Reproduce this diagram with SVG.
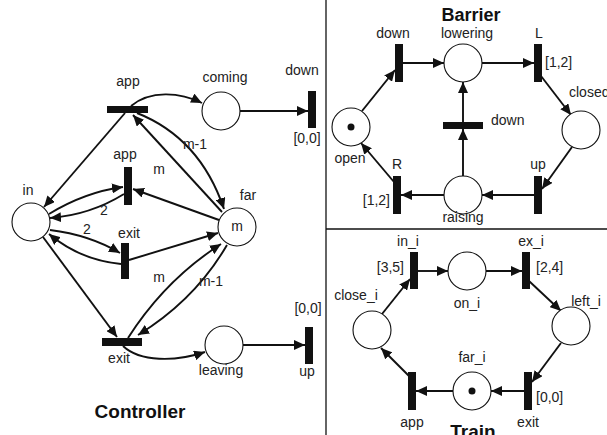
<svg xmlns="http://www.w3.org/2000/svg" width="607" height="435" viewBox="0 0 607 435">
<defs>
<marker id="ah" markerUnits="userSpaceOnUse" markerWidth="12" markerHeight="10" refX="11" refY="5" orient="auto">
<path d="M0,0 L11,5 L0,10 Z" fill="#111"/>
</marker>
<style>
.p{fill:#fff;stroke:#111;stroke-width:1.1}
.t{fill:#111}
.e{fill:none;stroke:#111;stroke-width:1.9;marker-end:url(#ah)}
.l{font-family:"Liberation Sans",Arial,sans-serif;font-size:14px;fill:#222}
.c{text-anchor:middle}
.h{font-family:"Liberation Sans",Arial,sans-serif;font-size:19px;font-weight:bold;fill:#111;text-anchor:middle}
.d{stroke:#111;stroke-width:1.3}
</style>
</defs>
<rect width="607" height="435" fill="#fff"/>
<g id="dividers">
<line class="d" x1="326" y1="0" x2="326" y2="435"/>
<line class="d" x1="326" y1="229" x2="607" y2="229"/>
</g>
<g id="connectors">
<path class="e" d="M131,106 C150,90 180,92 202,103"/>
<path class="e" d="M240,111 L308,111"/>
<path class="e" d="M125,113 L44,207"/>
<path class="e" d="M222,212 L133,115"/>
<path class="e" d="M137,113 Q200,138 224,209"/>
<path class="e" d="M49,214 Q85,192 123,187"/>
<path class="e" d="M124,194 Q90,215 50,218"/>
<path class="e" d="M219,220 L133,189"/>
<path class="e" d="M50,230 Q90,235 120,253"/>
<path class="e" d="M121,264 Q80,260 49,234"/>
<path class="e" d="M129,260 L218,233"/>
<path class="e" d="M43,237 L117,337"/>
<path class="e" d="M128,338 Q165,280 221,244"/>
<path class="e" d="M227,245 Q195,300 138,335"/>
<path class="e" d="M123,346 C140,362 175,362 205,352"/>
<path class="e" d="M243,345 L305,345"/>
<path class="e" d="M362,111 L395,70"/>
<path class="e" d="M403,63 L444,63"/>
<path class="e" d="M482,63 L534,63"/>
<path class="e" d="M541,76 L571,115"/>
<path class="e" d="M572,147 L542,189"/>
<path class="e" d="M534,195 L482,195"/>
<path class="e" d="M444,195 L401,195"/>
<path class="e" d="M394,182 L361,143"/>
<path class="e" d="M463,176 L463,129"/>
<path class="e" d="M463,122 L463,82"/>
<path class="e" d="M382,314 L410,279"/>
<path class="e" d="M418,271 L448,271"/>
<path class="e" d="M486,271 L522,271"/>
<path class="e" d="M529,281 L561,311"/>
<path class="e" d="M561,343 L532,382"/>
<path class="e" d="M524,391 L491,391"/>
<path class="e" d="M453,391 L416,391"/>
<path class="e" d="M409,376 L381,348"/>
</g>
<g id="controller">
<g id="c-app-top"><rect class="t" x="107" y="106" width="41" height="7"/><text class="l c" x="128" y="86">app</text></g>
<g id="c-coming"><circle class="p" cx="221" cy="111" r="19"/><text class="l c" x="225" y="82">coming</text></g>
<g id="c-down"><rect class="t" x="308" y="91" width="8" height="37"/><text class="l c" x="302" y="75">down</text><text class="l c" x="307" y="143">[0,0]</text></g>
<g id="c-in"><circle class="p" cx="31" cy="222" r="19"/><text class="l c" x="28" y="195">in</text></g>
<g id="c-far"><circle class="p" cx="237" cy="227" r="19"/><text class="l c" x="248" y="200">far</text><text class="l c" x="237" y="231">m</text></g>
<g id="c-app-mid"><rect class="t" x="124" y="167" width="8" height="38"/><text class="l c" x="125" y="159">app</text></g>
<g id="c-exit-mid"><rect class="t" x="121" y="243" width="8" height="36"/><text class="l c" x="129" y="238">exit</text></g>
<g id="c-exit-bot"><rect class="t" x="102" y="338" width="40" height="8"/><text class="l c" x="119" y="363">exit</text></g>
<g id="c-leaving"><circle class="p" cx="224" cy="345" r="19"/><text class="l c" x="221" y="375">leaving</text></g>
<g id="c-up"><rect class="t" x="305" y="327" width="8" height="37"/><text class="l c" x="308" y="313">[0,0]</text><text class="l c" x="307" y="376">up</text></g>
<g id="c-weights">
<text class="l c" x="195" y="149">m-1</text>
<text class="l c" x="159" y="174">m</text>
<text class="l c" x="104" y="215">2</text>
<text class="l c" x="87" y="234">2</text>
<text class="l c" x="159" y="282">m</text>
<text class="l c" x="211" y="286">m-1</text>
</g>
<text class="h" x="140" y="418">Controller</text>
</g>
<g id="barrier">
<text class="h" x="471" y="21" style="font-size:18px">Barrier</text>
<g id="b-down"><rect class="t" x="395" y="44" width="8" height="38"/><text class="l c" x="393" y="38">down</text></g>
<g id="b-lowering"><circle class="p" cx="463" cy="63" r="19"/><text class="l c" x="467" y="38">lowering</text></g>
<g id="b-L"><rect class="t" x="534" y="44" width="8" height="38"/><text class="l c" x="539" y="38">L</text><text class="l" x="545" y="67">[1,2]</text></g>
<g id="b-closed"><circle class="p" cx="581" cy="130" r="19"/><text class="l" x="569" y="97">closed</text></g>
<g id="b-up"><rect class="t" x="534" y="176" width="8" height="38"/><text class="l c" x="538" y="169">up</text></g>
<g id="b-raising"><circle class="p" cx="463" cy="195" r="19"/><text class="l c" x="463" y="222">raising</text></g>
<g id="b-R"><rect class="t" x="393" y="176" width="8" height="38"/><text class="l c" x="397" y="169">R</text><text class="l" x="390" y="205" text-anchor="end">[1,2]</text></g>
<g id="b-open"><circle class="p" cx="351" cy="127" r="19"/><circle class="t" cx="351" cy="127" r="3.5"/><text class="l c" x="350" y="163">open</text></g>
<g id="b-down2"><rect class="t" x="443" y="122" width="40" height="7"/><text class="l" x="491" y="125">down</text></g>
</g>
<g id="train">
<g id="t-in"><rect class="t" x="410" y="252" width="8" height="37"/><text class="l c" x="408" y="246">in_i</text><text class="l" x="404" y="272" text-anchor="end">[3,5]</text></g>
<g id="t-on"><circle class="p" cx="467" cy="271" r="19"/><text class="l c" x="467" y="308">on_i</text></g>
<g id="t-ex"><rect class="t" x="522" y="252" width="8" height="37"/><text class="l c" x="531" y="246">ex_i</text><text class="l" x="536" y="272">[2,4]</text></g>
<g id="t-left"><circle class="p" cx="571" cy="326" r="19"/><text class="l c" x="586" y="306">left_i</text></g>
<g id="t-exit"><rect class="t" x="524" y="372" width="8" height="38"/><text class="l c" x="528" y="427">exit</text><text class="l" x="536" y="402">[0,0]</text></g>
<g id="t-far"><circle class="p" cx="472" cy="391" r="19"/><circle class="t" cx="472" cy="391" r="3.5"/><text class="l c" x="472" y="362">far_i</text></g>
<g id="t-app"><rect class="t" x="408" y="372" width="8" height="38"/><text class="l c" x="412" y="427">app</text></g>
<g id="t-close"><circle class="p" cx="372" cy="330" r="19"/><text class="l c" x="356" y="300">close_i</text></g>
<text class="h" x="473" y="438">Train</text>
</g>
</svg>
